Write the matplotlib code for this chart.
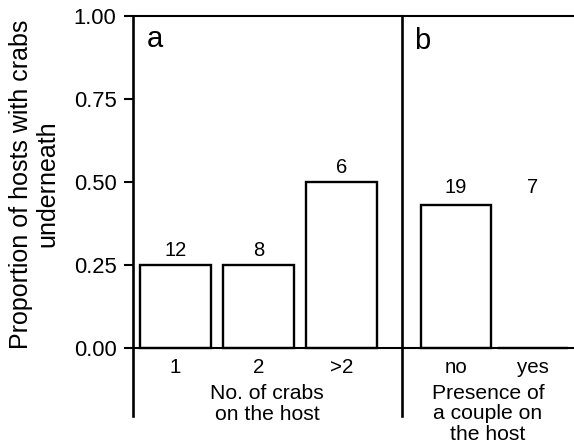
import matplotlib
matplotlib.use("Agg")
import matplotlib.pyplot as plt
from matplotlib.transforms import blended_transform_factory

plt.rcParams['font.family'] = ['Liberation Sans', 'DejaVu Sans']

# Panel a: number of crabs on the host
crab_groups = ["1", "2", ">2"]
prop_crabs = [0.25, 0.25, 0.50]
n_crabs = [12, 8, 6]

# Panel b: presence of a couple on the host
couple_groups = ["no", "yes"]
prop_couple = [0.43, 0.0]
n_couple = [19, 7]

y_ticks = [0.00, 0.25, 0.50, 0.75, 1.00]

W, H = 574, 443
fig = plt.figure(figsize=(W / 100, H / 100), dpi=100)


def box(x0, x1, ytop, ybot):
    return [x0 / W, 1 - ybot / H, (x1 - x0) / W, (ybot - ytop) / H]


axa = fig.add_axes(box(132.5, 402, 16, 416))
axb = fig.add_axes(box(402, 574, 16, 416))

ymin = -0.204
FS_TICK_Y = 15.8
FS_TICK_X = 14.8
FS_N = 14.5
FS_XLAB = 15.2
FS_PANEL = 21

for ax in (axa, axb):
    ax.set_ylim(ymin, 1.0)
    ax.spines['bottom'].set_position(('data', 0))
    ax.spines['bottom'].set_linewidth(1.5)
    ax.spines['top'].set_linewidth(1.5)
    ax.tick_params(axis='x', length=0, pad=7, labelsize=FS_TICK_X)
    ax.set_facecolor('none')

# panel a
xa = list(range(len(crab_groups)))
axa.set_xlim(-0.518, 2.729)
axa.bar(xa, prop_crabs, width=0.855, fill=False, edgecolor='black', linewidth=1.7)
axa.set_xticks(xa)
axa.set_xticklabels(crab_groups)
axa.spines['left'].set_linewidth(1.9)
axa.spines['right'].set_linewidth(1.9)
axa.set_yticks(y_ticks)
axa.set_yticklabels([f"{t:.2f}" for t in y_ticks])
axa.tick_params(axis='y', length=6.5, width=1.5, pad=5, labelsize=FS_TICK_Y)
for x, v, n in zip(xa, prop_crabs, n_crabs):
    axa.text(x, v + 0.028, str(n), ha='center', va='baseline', fontsize=FS_N)
axa.text(0.054, 0.907, "a", transform=blended_transform_factory(axa.transAxes, axa.transData),
         fontsize=FS_PANEL, va='baseline', ha='left')
axa.set_xlabel("No. of crabs\non the host", fontsize=FS_XLAB, linespacing=1.15, labelpad=5)

# panel b
xb = list(range(len(couple_groups)))
axb.set_xlim(-0.695, 1.530)
axb.bar(xb, prop_couple, width=0.906, fill=False, edgecolor='black', linewidth=1.7)
axb.set_xticks(xb)
axb.set_xticklabels(couple_groups)
axb.spines['left'].set_visible(False)
axb.spines['right'].set_visible(False)
axb.set_yticks([])
label_level = max(prop_couple) + 0.037
for x, n in zip(xb, n_couple):
    axb.text(x, label_level, str(n), ha='center', va='baseline', fontsize=FS_N)
axb.text(0.07, 0.90, "b", transform=blended_transform_factory(axb.transAxes, axb.transData),
         fontsize=FS_PANEL, va='baseline', ha='left')
axb.set_xlabel("Presence of\na couple on\nthe host", fontsize=FS_XLAB, linespacing=1.1, labelpad=5)

fig.text(34 / W, 1 - 184 / H, "Proportion of hosts with crabs\nunderneath",
         rotation=90, ha='center', va='center', fontsize=18, linespacing=1.12)

fig.savefig("out.png", dpi=100)
